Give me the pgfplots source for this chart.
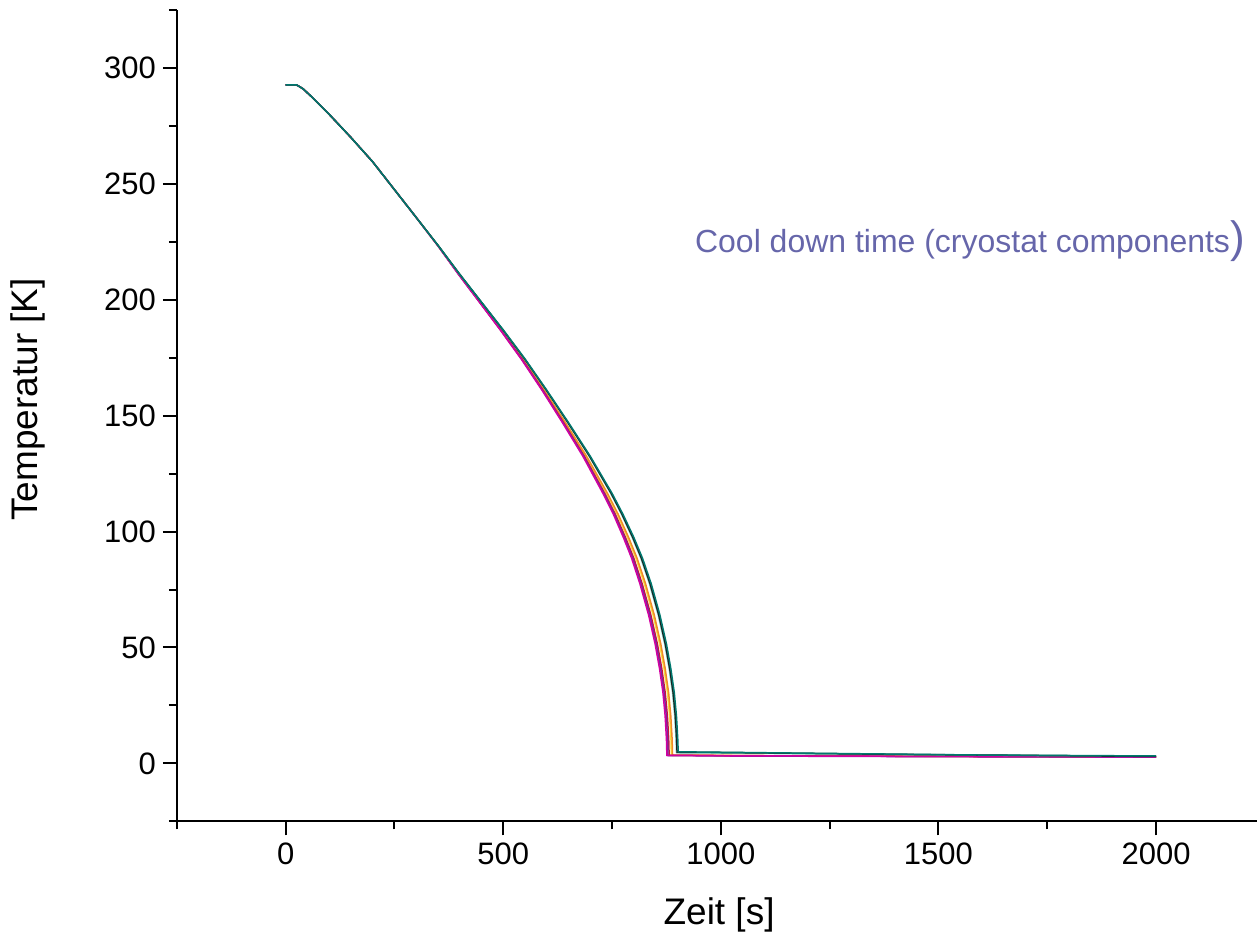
\documentclass[border=0pt]{standalone}
\usepackage{fontspec}
\setmainfont{Liberation Sans}
\usepackage{pgfplots}
\pgfplotsset{compat=1.18}
\definecolor{titlecol}{RGB}{102,102,170}
\definecolor{cTeal}{RGB}{0,120,110}
\definecolor{cBlack}{RGB}{30,30,30}
\definecolor{cCyan}{RGB}{120,210,190}
\definecolor{cOrange}{RGB}{240,140,40}
\definecolor{cYellow}{RGB}{245,220,60}
\definecolor{cRed}{RGB}{200,20,60}
\definecolor{cPurple}{RGB}{120,40,160}
\definecolor{cMagenta}{RGB}{210,0,160}

\begin{document}
\begin{tikzpicture}
\begin{axis}[
    scale only axis,
    width=540.5pt, height=406pt,
    xmin=-250, xmax=2232, ymin=-25, ymax=325,
    axis x line=bottom, axis y line=left,
    axis line style={-, line width=1pt},
    xtick={0,500,1000,1500,2000},
    ytick={0,50,100,150,200,250,300},
    minor xtick={-250,250,750,1250,1750},
    minor ytick={-25,25,75,125,175,225,275,325},
    tick align=outside,
    major tick length=7pt, minor tick length=4pt,
    every tick/.style={black, line width=1pt},
    /pgf/number format/assume math mode=true,
    /pgf/number format/set thousands separator={},
    tick label style={font=\fontsize{15.5}{18}\selectfont},
    xlabel={Zeit [s]}, ylabel={Temperatur [K]},
    label style={font=\fontsize{18.5}{22}\selectfont},
    xlabel style={at={(axis description cs:0.502,-0.115)}, anchor=center},
    ylabel style={at={(axis description cs:-0.138,0.52)}, anchor=center, rotate=0},
    every axis plot/.append style={line width=0.75pt},
    clip=false,
]
% inner curves first
\addplot[cYellow] coordinates {(0,292.7)(25,292.7)(40,291)(60,287.5)(100,280)(150,270)(200,259.5)(250,247.5)(300,235.5)
 (349.4,223.5)(398.2,211)(447,199)(495.8,187)(544.6,174.5)(593.4,161)(641.6,147)(689.8,132.5)(737.4,116.5)(761.8,107.5)
 (785.6,97.5)(805,88.5)(824.4,77.5)(844.4,64)(859.4,51.5)(869.4,41)(877.4,30.5)(882.4,20.5)(885.4,10.5)(886.4,3.6)(1100,3.3)(1600,3.0)(2000,2.8)};
\addplot[cOrange] coordinates {(0,292.7)(25,292.7)(40,291)(60,287.5)(100,280)(150,270)(200,259.5)(250,247.5)(300,235.5)
 (349.5,223.5)(398.5,211)(447.5,199)(496.5,187)(545.5,174.5)(594.5,161)(643,147)(691.5,132.5)(739.5,116.5)(764,107.5)
 (788,97.5)(807.5,88.5)(827,77.5)(847,64)(862,51.5)(872,41)(880,30.5)(885,20.5)(888,10.5)(889,3.5)(1200,3.2)(1700,2.9)(2000,2.8)};
\addplot[cRed] coordinates {(0,292.7)(25,292.7)(40,291)(60,287.5)(100,280)(150,270)(200,259.5)(250,247.5)(300,235.5)
 (349.2,223.5)(397.6,211)(446,199)(494.4,187)(542.8,174.5)(591.2,161)(638.8,147)(686.4,132.5)(733.2,116.5)(757.4,107.5)
 (780.8,97.5)(800,88.5)(819.2,77.5)(839.2,64)(854.2,51.5)(864.2,41)(872.2,30.5)(877.2,20.5)(880.2,10.5)(881.2,3.5)(1200,3.2)(1700,2.9)(2000,2.7)};
\addplot[cPurple] coordinates {(0,292.7)(25,292.7)(40,291)(60,287.5)(100,280)(150,270)(200,259.5)(250,247.5)(300,235.5)
 (349.1,223.5)(397.3,211)(445.5,199)(493.7,187)(541.9,174.5)(590.1,161)(637.4,147)(684.7,132.5)(731.1,116.5)(755.2,107.5)
 (778.4,97.5)(797.5,88.5)(816.6,77.5)(836.6,64)(851.6,51.5)(861.6,41)(869.6,30.5)(874.6,20.5)(877.6,10.5)(878.6,3.4)(1000,3.2)(1500,2.9)(2000,2.7)};
\addplot[cMagenta] coordinates {(0,292.7)(25,292.7)(40,291)(60,287.5)(100,280)(150,270)(200,259.5)(250,247.5)(300,235.5)
 (349,223.5)(397,211)(445,199)(493,187)(541,174.5)(589,161)(636,147)(683,132.5)(729,116.5)(753,107.5)
 (776,97.5)(795,88.5)(814,77.5)(834,64)(849,51.5)(859,41)(867,30.5)(872,20.5)(875,10.5)(876,3.5)(1000,3.3)(1500,3.0)(2000,2.8)};
% outer curves
\addplot[cCyan] coordinates {(0,292.7)(25,292.7)(40,291)(60,287.5)(100,280)(150,270)(200,259.5)(250,247.5)(300,235.5)
 (349.9,223.5)(399.6,211)(449.3,199)(499,187)(548.7,174.5)(598.4,161)(647.9,147)(697.5,132.5)(746.9,116.5)(771.7,107.5)
 (796.4,97.5)(816.3,88.5)(836.1,77.5)(856.1,64)(871.1,51.5)(881.1,41)(889.1,30.5)(894.1,20.5)(897.1,10.5)(898.1,4.6)(1300,4.0)(1800,3.3)(2000,3.1)};
\addplot[cBlack] coordinates {(0,292.7)(25,292.7)(40,291)(60,287.5)(100,280)(150,270)(200,259.5)(250,247.5)(300,235.5)
 (350,223.5)(400,211)(449.5,199)(499.3,187)(549,174.5)(599,161)(648.6,147)(698.3,132.5)(748,116.5)(772.8,107.5)
 (797.6,97.5)(817.5,88.5)(837.4,77.5)(857.4,64)(872.4,51.5)(882.4,41)(890.4,30.5)(895.4,20.5)(898.4,10.5)(899.4,4.8)(1000,4.7)(1400,3.9)(2000,3.0)};
\addplot[cTeal] coordinates {(0,292.7)(25,292.7)(40,291)(60,287.5)(100,280)(150,270)(200,259.5)(250,247.5)(300,235.5)
 (350,223.5)(400,211)(450,199)(500,187)(550,174.5)(600,161)(650,147)(700,132.5)(750,116.5)(775,107.5)
 (800,97.5)(820,88.5)(840,77.5)(860,64)(875,51.5)(885,41)(893,30.5)(898,20.5)(901,10.5)(902,5)(1000,4.8)(1300,4.2)(1600,3.6)(2000,3.2)};
\node[anchor=west, text=titlecol, inner sep=0pt] at (axis cs:940,225.5)
  {\fontsize{16}{19}\selectfont Cool down time (cryostat components{\fontsize{22}{25}\selectfont)}};
\path (rel axis cs:0,1) node[inner sep=0pt, minimum size=0pt, yshift=5pt] {};
\path (rel axis cs:0,0.5) node[inner sep=0pt, minimum size=0pt, xshift=-88.5pt] {};
\end{axis}
\end{tikzpicture}
\end{document}
